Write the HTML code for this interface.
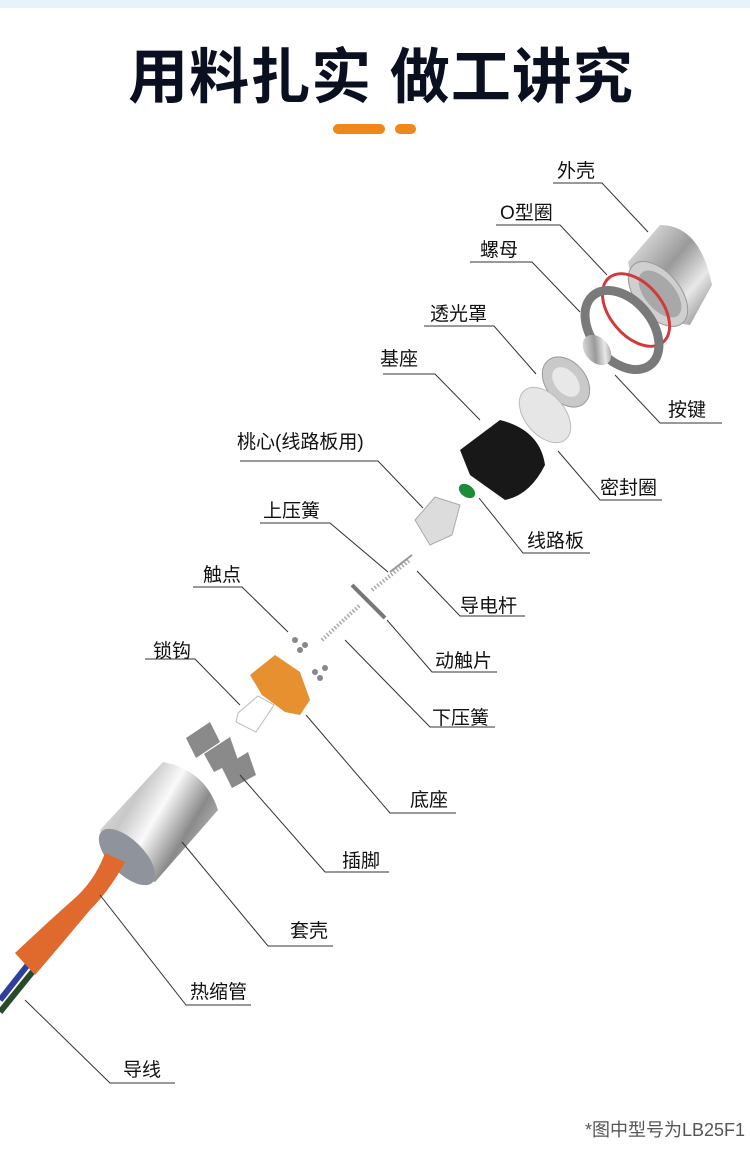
<!DOCTYPE html>
<html><head><meta charset="utf-8"><style>
html,body{margin:0;padding:0;background:#fff}
body{width:750px;height:1147px;overflow:hidden;position:relative}
text{font-family:"Liberation Sans","Noto Sans CJK SC",sans-serif}
</style></head><body>
<svg width="750" height="1147" viewBox="0 0 750 1147" xmlns="http://www.w3.org/2000/svg">
<defs>
<linearGradient id="met" x1="0" y1="0" x2="1" y2="1">
<stop offset="0" stop-color="#f4f4f4"/><stop offset=".45" stop-color="#9a9a9a"/><stop offset=".7" stop-color="#e8e8e8"/><stop offset="1" stop-color="#777"/></linearGradient>
<linearGradient id="cyl" x1="0" y1="0" x2="1" y2="0.6">
<stop offset="0" stop-color="#eee"/><stop offset=".35" stop-color="#c8c8c8"/><stop offset=".55" stop-color="#fafafa"/><stop offset=".8" stop-color="#8a8a8a"/><stop offset="1" stop-color="#bbb"/></linearGradient>
</defs>
<rect x="0" y="0" width="750" height="8" fill="#e8f2fb"/>
<text x="381" y="98" font-size="60" font-weight="bold" fill="#0a1020" text-anchor="middle" letter-spacing="1">用料扎实 做工讲究</text>
<rect x="333" y="124" width="52" height="10" rx="5" fill="#f0871a"/>
<rect x="395" y="124" width="21" height="10" rx="5" fill="#f0871a"/>

<!-- shell -->
<path d="M628 262 L660 225 Q700 225 712 285 L690 325 Q640 320 628 262 Z" fill="url(#met)"/>
<ellipse cx="658" cy="294" rx="22" ry="38" transform="rotate(-40 658 294)" fill="#cfcfcf" stroke="#999"/>
<ellipse cx="660" cy="294" rx="15" ry="28" transform="rotate(-40 660 294)" fill="#a8a8a8"/>
<!-- O ring -->
<ellipse cx="636" cy="310" rx="26" ry="42" transform="rotate(-40 636 310)" fill="none" stroke="#d23a3a" stroke-width="3"/>
<!-- nut -->
<ellipse cx="622" cy="330" rx="30" ry="45" transform="rotate(-40 622 330)" fill="none" stroke="#7a7a7a" stroke-width="9"/>
<!-- button -->
<ellipse cx="597" cy="350" rx="12" ry="17" transform="rotate(-40 597 350)" fill="url(#met)"/>
<!-- lens -->
<ellipse cx="566" cy="382" rx="20" ry="28" transform="rotate(-40 566 382)" fill="#c9c9c9" stroke="#999"/>
<ellipse cx="566" cy="382" rx="11" ry="17" transform="rotate(-40 566 382)" fill="#e8e8e8"/>
<!-- seal -->
<ellipse cx="545" cy="415" rx="20" ry="32" transform="rotate(-40 545 415)" fill="#e6e6e6" stroke="#bbb"/>
<!-- base black -->
<path d="M460 450 L500 420 Q540 430 545 465 Q530 495 505 500 L470 475 Z" fill="#181818"/>
<!-- pcb -->
<ellipse cx="467" cy="491" rx="9" ry="6" transform="rotate(35 467 491)" fill="#1e8a3a"/>
<!-- core -->
<path d="M415 520 L435 497 L460 505 L452 535 L430 545 Z" fill="#dcdcdc" stroke="#aaa"/>
<!-- springs and rods -->
<line x1="372" y1="590" x2="410" y2="560" stroke="#aaa" stroke-width="4" stroke-dasharray="1.5 2"/>
<line x1="390" y1="572" x2="412" y2="555" stroke="#999" stroke-width="2"/>
<line x1="352" y1="585" x2="385" y2="618" stroke="#777" stroke-width="4"/>
<line x1="322" y1="640" x2="360" y2="605" stroke="#aaa" stroke-width="4" stroke-dasharray="1.5 2"/>
<g fill="#888"><circle cx="295" cy="640" r="3"/><circle cx="305" cy="645" r="3"/><circle cx="300" cy="650" r="3"/><circle cx="315" cy="672" r="3"/><circle cx="325" cy="668" r="3"/><circle cx="320" cy="678" r="3"/></g>
<!-- orange base -->
<path d="M250 675 L275 655 L300 672 L310 700 L300 715 L285 712 L262 695 Z" fill="#e6902f"/>
<!-- lock -->
<path d="M238 713 L258 696 L274 705 L256 732 L236 722 Z" fill="none" stroke="#bbb"/>
<!-- pins -->
<g fill="#8a8a8a">
<path d="M186 738 L210 722 L220 742 L196 758 Z"/>
<path d="M204 754 L230 737 L238 760 L214 772 Z"/>
<path d="M222 768 L248 752 L256 775 L232 788 Z"/>
</g>
<!-- sleeve -->
<path d="M100 830 L163 762 Q205 770 218 810 L155 882 Q110 870 100 830 Z" fill="url(#cyl)"/>
<ellipse cx="127" cy="857" rx="17" ry="36" transform="rotate(-45 127 857)" fill="#8f939c"/>
<!-- wires -->
<path d="M0 1000 L30 962" stroke="#2f3fa0" stroke-width="6"/>
<path d="M0 1012 L34 970" stroke="#264a2a" stroke-width="6"/>
<path d="M105 853 L125 862 Q110 890 90 910 Q65 940 35 975 L15 953 Q50 920 75 898 Q95 880 105 853 Z" fill="#e06a2e"/>

<g stroke="#333" stroke-width="1" fill="none">
<path d="M553 183H602L648 232"/>
<path d="M496 225H560L607 275"/>
<path d="M470 262H532L580 312"/>
<path d="M424 326H494L536 374"/>
<path d="M383 374H435L480 420"/>
<path d="M240 461H378L423 508"/>
<path d="M260 523H330L388 572"/>
<path d="M193 587H242L288 632"/>
<path d="M145 659H195L240 705"/>
<path d="M722 423H660L615 375"/>
<path d="M662 500H600L558 451"/>
<path d="M590 553H523L479 498"/>
<path d="M525 616H460L417 571"/>
<path d="M497 672H432L387 620"/>
<path d="M495 727H430L345 640"/>
<path d="M456 813H390L306 715"/>
<path d="M389 872H325L240 775"/>
<path d="M333 946H268L182 842"/>
<path d="M251 1005H186L100 895"/>
<path d="M175 1083H110L25 1000"/>
</g>
<g font-size="19" fill="#111">
<text x="557" y="177">外壳</text>
<text x="500" y="219">O型圈</text>
<text x="480" y="256">螺母</text>
<text x="430" y="320">透光罩</text>
<text x="380" y="365">基座</text>
<text x="237" y="448">桃心(线路板用)</text>
<text x="263" y="517">上压簧</text>
<text x="203" y="581">触点</text>
<text x="153" y="657">锁钩</text>
<text x="668" y="416">按键</text>
<text x="600" y="494">密封圈</text>
<text x="527" y="547">线路板</text>
<text x="460" y="612">导电杆</text>
<text x="435" y="667">动触片</text>
<text x="432" y="724">下压簧</text>
<text x="410" y="806">底座</text>
<text x="342" y="867">插脚</text>
<text x="290" y="937">套壳</text>
<text x="190" y="998">热缩管</text>
<text x="123" y="1076">导线</text>
</g>
<text x="745" y="1136" font-size="18" fill="#555" text-anchor="end">*图中型号为LB25F1</text>
</svg>
</body></html>
